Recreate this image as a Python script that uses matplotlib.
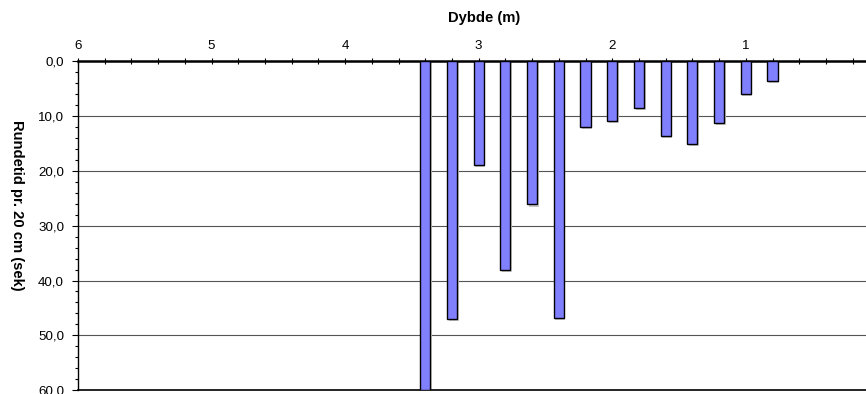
import matplotlib

matplotlib.use("Agg")
import matplotlib.pyplot as plt
from matplotlib import font_manager
from matplotlib.ticker import FuncFormatter, MultipleLocator

# depth (m) and round time per 20 cm (s)
depth = [3.4, 3.2, 3.0, 2.8, 2.6, 2.4, 2.2, 2.0, 1.8, 1.6, 1.4, 1.2, 1.0, 0.8]
round_time = [60.0, 47.0, 18.9, 38.0, 26.1, 46.8, 11.9, 10.9, 8.5, 13.6, 15.1, 11.2, 5.9, 3.6]

BAR_COLOR = "#8080FF"


def liberation_file(bold: bool) -> str | None:
    # pick the regular-width Liberation Sans, not the Narrow cut
    for entry in font_manager.fontManager.ttflist:
        if entry.name != "Liberation Sans" or "Narrow" in entry.fname:
            continue
        is_bold = entry.weight in ("bold", 700)
        if is_bold == bold and entry.style == "normal":
            return entry.fname
    return None


regular_path = liberation_file(False)
bold_path = liberation_file(True)
tick_font = font_manager.FontProperties(fname=regular_path, size=9.6) if regular_path else \
    font_manager.FontProperties(family="DejaVu Sans", size=9.6)
label_font = font_manager.FontProperties(fname=bold_path, size=10.6) if bold_path else \
    font_manager.FontProperties(family="DejaVu Sans", weight="bold", size=10.6)

fig = plt.figure(figsize=(8.66, 3.94), dpi=100)
ax = fig.add_axes([0.090, 0.010, 0.910, 0.834])

# soft shadow behind the bars
ax.bar([d - 0.012 for d in depth], [v + 0.4 for v in round_time], width=0.075,
       color="#C8C8C8", edgecolor="none", zorder=2)
ax.bar(depth, round_time, width=0.075, color=BAR_COLOR, edgecolor="black",
       linewidth=1.0, zorder=3)

ax.set_xlim(6, 0.1)
ax.set_ylim(60, 0)

ax.xaxis.tick_top()
ax.xaxis.set_major_locator(MultipleLocator(1))
ax.xaxis.set_minor_locator(MultipleLocator(0.2))
ax.xaxis.set_major_formatter(FuncFormatter(lambda v, _: f"{v:.0f}"))
ax.tick_params(axis="x", which="both", direction="inout", length=5, width=0.8, pad=4)

ax.yaxis.set_major_locator(MultipleLocator(10))
ax.yaxis.set_minor_locator(MultipleLocator(2))
ax.yaxis.set_major_formatter(FuncFormatter(lambda v, _: f"{v:.1f}".replace(".", ",")))
ax.tick_params(axis="y", which="major", direction="out", length=4, width=0.8, pad=6)
ax.tick_params(axis="y", which="minor", direction="out", length=2.5, width=0.8)

for label in ax.get_xticklabels() + ax.get_yticklabels():
    label.set_fontproperties(tick_font)

ax.grid(True, axis="y", which="major", color="#555555", linewidth=0.8, zorder=0)
ax.set_axisbelow(True)

ax.spines["right"].set_visible(False)
ax.spines["top"].set_linewidth(1.8)
ax.spines["left"].set_linewidth(1.0)
ax.spines["bottom"].set_linewidth(1.2)

fig.text(484 / 866, 1 - 18 / 394, "Dybde (m)", ha="center", va="center",
         fontproperties=label_font)
fig.text(17 / 866, 1 - 205 / 394, "Rundetid pr. 20 cm (sek)", ha="center", va="center",
         rotation=-90, fontproperties=label_font)

fig.savefig("out.png", dpi=100)
